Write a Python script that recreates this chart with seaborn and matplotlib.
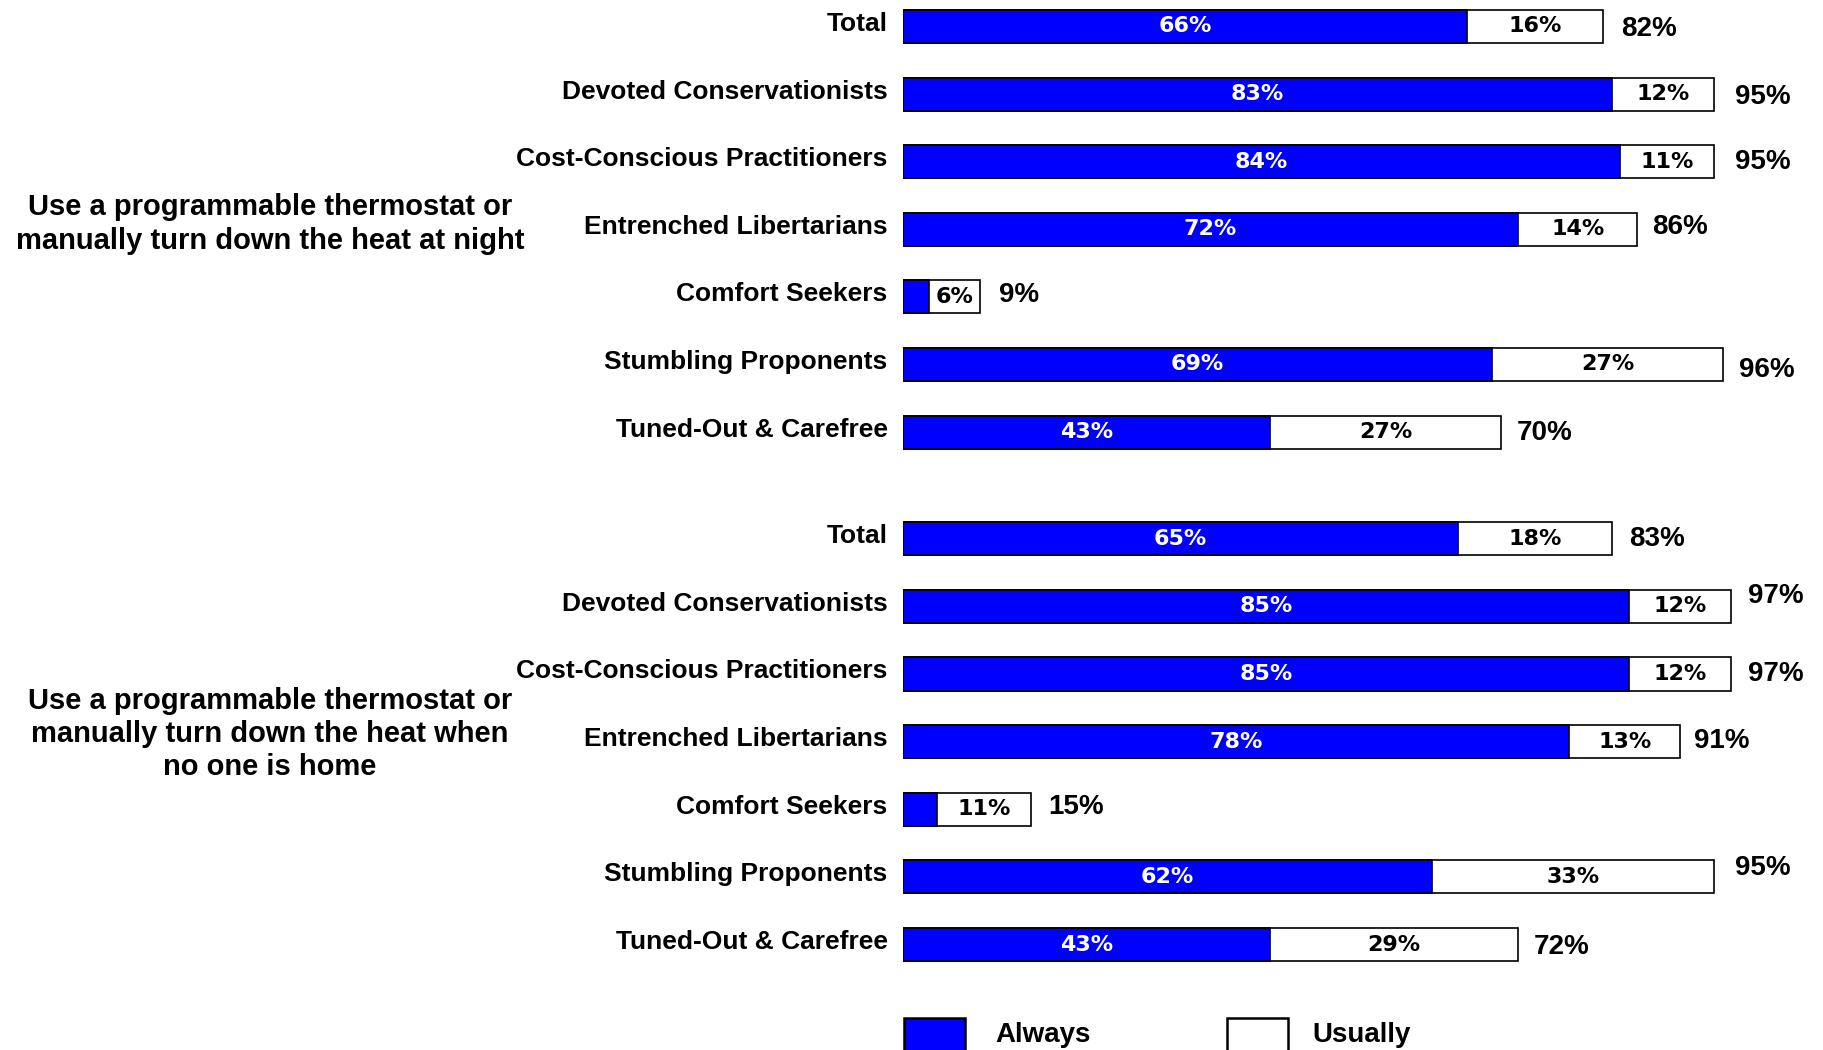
import matplotlib
matplotlib.use("Agg")
import matplotlib.pyplot as plt
import matplotlib.transforms as mtransforms
from matplotlib.patches import Rectangle
import pandas as pd
import seaborn as sns

# ---- data -------------------------------------------------------------
segments = ["Total", "Devoted Conservationists", "Cost-Conscious Practitioners",
            "Entrenched Libertarians", "Comfort Seekers", "Stumbling Proponents",
            "Tuned-Out & Carefree"]

night_always = [66, 83, 84, 72, 3, 69, 43]
night_usually = [16, 12, 11, 14, 6, 27, 27]

away_always = [65, 85, 85, 78, 4, 62, 43]
away_usually = [18, 12, 12, 13, 11, 33, 29]

group_titles = [
    "Use a programmable thermostat or\nmanually turn down the heat at night",
    "Use a programmable thermostat or\nmanually turn down the heat when\nno one is home",
]
legend_labels = ["Always", "Usually"]

# ---- styling ----------------------------------------------------------
BLUE = "#0000FF"
W, H = 1824, 1050
sns.set_theme(style="white")
plt.rcParams["font.family"] = ["Liberation Sans", "DejaVu Sans"]
plt.rcParams["font.weight"] = "bold"
plt.rcParams["text.color"] = "black"
plt.rcParams["ytick.color"] = "black"
plt.rcParams["ytick.labelcolor"] = "black"

fig = plt.figure(figsize=(W / 100, H / 100), dpi=100)
fig.patch.set_facecolor("white")

x0 = 903 / W
xw = 854 / W
# axes boxes in pixel terms (top, bottom) and the y-limits for each panel
panels = [
    dict(top=0.0, bottom=465.9, ylim=(6.5, -0.392),
         always=night_always, usually=night_usually,
         # pixel nudges for the total labels (dx, dy; dy positive = down)
         nudges=[(0, 3), (3, 3), (3, 0), (-3, -2), (1, -2), (-2, 6), (-2, 1)],
         title_y=224),
    dict(top=504.8, bottom=978.4, ylim=(6.5, -0.5),
         always=away_always, usually=away_usually,
         nudges=[(-1, 0), (-1, -10), (-1, 0), (-4, -1), (-1, -2), (3, -9), (-2, 2)],
         title_y=734),
]

for p, title in zip(panels, group_titles):
    ax = fig.add_axes([x0, 1 - p["bottom"] / H, xw, (p["bottom"] - p["top"]) / H])
    df = pd.DataFrame({"segment": segments,
                       "always": p["always"],
                       "usually": p["usually"]})
    df["total"] = df["always"] + df["usually"]

    # white "usually" bar spans the full total, blue "always" drawn over it
    sns.barplot(data=df, x="total", y="segment", orient="h", color="white",
                saturation=1, edgecolor="black", linewidth=1.2, width=0.49, ax=ax)
    sns.barplot(data=df, x="always", y="segment", orient="h", color=BLUE,
                saturation=1, edgecolor="black", linewidth=1.2, width=0.49, ax=ax)

    ax.set_xlim(0, 100)
    ax.set_ylim(*p["ylim"])
    ax.set_xlabel("")
    ax.set_ylabel("")
    ax.set_xticks([])
    for s in ax.spines.values():
        s.set_visible(False)
    ax.tick_params(axis="y", length=0, pad=11, labelsize=19, labelcolor="black")
    raise_lbl = mtransforms.ScaledTranslation(0, 5 / 100, fig.dpi_scale_trans)
    for lbl in ax.get_yticklabels():
        lbl.set_fontweight("bold")
        lbl.set_color("black")
        lbl.set_transform(lbl.get_transform() + raise_lbl)

    for i, row in df.iterrows():
        a, u, t = row["always"], row["usually"], row["total"]
        if a >= 5:
            ax.text(a / 2, i, f"{a}%", ha="center", va="center", color="white",
                    fontsize=16, family="DejaVu Sans", fontweight="bold")
        ax.text(a + u / 2, i, f"{u}%", ha="center", va="center", color="black",
                fontsize=16, family="DejaVu Sans", fontweight="bold")
        dx, dy = p["nudges"][i]
        ax.annotate(f"{t}%", xy=(t, i), xytext=(18 + dx, -dy),
                    textcoords="offset pixels", ha="left", va="center",
                    fontsize=20, fontweight="bold", color="black")

    fig.text(270 / W, 1 - p["title_y"] / H, title, ha="center", va="center",
             fontsize=21, fontweight="bold", linespacing=1.23, color="black")

# ---- legend (swatches sit partly below the figure edge) ----------------
for (lx, tx), label, face in zip([(904, 995), (1227, 1312)], legend_labels,
                                 [BLUE, "white"]):
    fig.add_artist(Rectangle((lx / W, (H - 1018 - 61) / H), 61 / W, 61 / H,
                             transform=fig.transFigure, facecolor=face,
                             edgecolor="black", linewidth=1.8, clip_on=False))
    fig.text(tx / W, 8 / H, label, ha="left", va="baseline",
             fontsize=20, fontweight="bold", color="black")

fig.savefig("out.png", dpi=100)
